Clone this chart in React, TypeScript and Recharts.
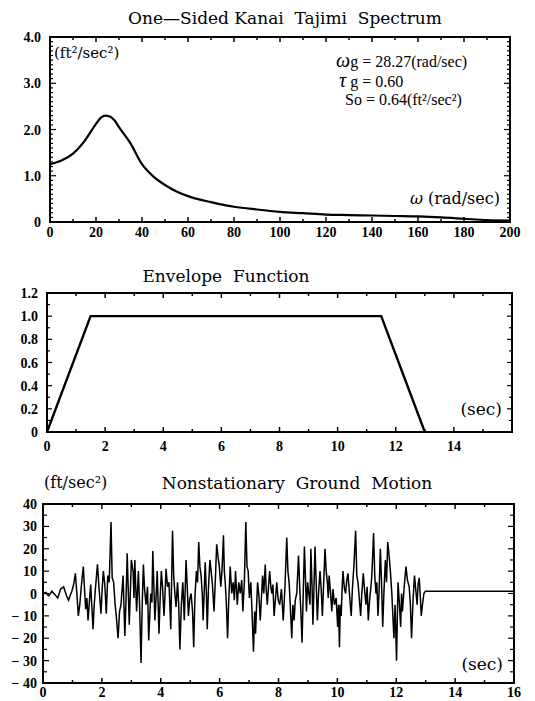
import { LineChart, Line, XAxis, YAxis, ReferenceArea } from "recharts";

const SERIF = "'Liberation Serif', 'Times New Roman', serif";
const WIDE = "'DejaVu Serif', 'Liberation Serif', serif";

// ---- One-sided Kanai-Tajimi spectrum
const omega = [0, 5, 10, 15, 20, 22, 24, 26, 28, 30, 35, 40, 45, 50, 55, 60, 70, 80, 90, 100, 110, 120, 130, 140, 150, 160, 170, 180, 190, 200];
const spectrum = [1.25, 1.33, 1.48, 1.75, 2.12, 2.25, 2.3, 2.28, 2.2, 2.05, 1.7, 1.25, 0.98, 0.8, 0.66, 0.56, 0.43, 0.33, 0.27, 0.22, 0.19, 0.16, 0.15, 0.14, 0.13, 0.12, 0.1, 0.07, 0.04, 0.03];

// ---- Envelope function
const envTime = [0, 1.5, 11.5, 13];
const envValue = [0, 1, 1, 0];

// ---- Nonstationary ground motion (ft/sec^2)
const gmTime = [
  0, 0.1, 0.15, 0.2, 0.3, 0.4, 0.5, 0.55, 0.6, 0.7,
  0.75, 0.8, 0.87, 0.92, 0.98, 1.04, 1.1, 1.15, 1.2, 1.25,
  1.3, 1.37, 1.41, 1.45, 1.49, 1.53, 1.58, 1.62, 1.66, 1.7,
  1.74, 1.78, 1.85, 1.9, 1.97, 2.01, 2.05, 2.1, 2.15, 2.2,
  2.25, 2.31, 2.35, 2.4, 2.45, 2.49, 2.55, 2.6, 2.65, 2.72,
  2.78, 2.82, 2.86, 2.9, 2.93, 2.97, 3.0, 3.06, 3.09, 3.12,
  3.15, 3.18, 3.24, 3.28, 3.33, 3.37, 3.41, 3.45, 3.5, 3.55,
  3.59, 3.66, 3.7, 3.73, 3.77, 3.8, 3.84, 3.88, 3.94, 3.98,
  4.02, 4.06, 4.11, 4.14, 4.18, 4.23, 4.28, 4.34, 4.4, 4.44,
  4.48, 4.52, 4.57, 4.61, 4.65, 4.7, 4.75, 4.8, 4.86, 4.9,
  4.94, 4.98, 5.03, 5.08, 5.12, 5.16, 5.21, 5.25, 5.29, 5.33,
  5.37, 5.41, 5.44, 5.48, 5.51, 5.55, 5.58, 5.62, 5.67, 5.71,
  5.75, 5.81, 5.86, 5.9, 5.95, 5.99, 6.04, 6.08, 6.13, 6.16,
  6.19, 6.23, 6.27, 6.31, 6.36, 6.41, 6.46, 6.5, 6.54, 6.6,
  6.65, 6.7, 6.75, 6.79, 6.84, 6.89, 6.93, 6.97, 7.01, 7.06,
  7.1, 7.15, 7.19, 7.22, 7.26, 7.29, 7.34, 7.38, 7.42, 7.46,
  7.5, 7.55, 7.58, 7.62, 7.66, 7.7, 7.74, 7.77, 7.81, 7.85,
  7.9, 7.94, 7.99, 8.04, 8.1, 8.16, 8.22, 8.28, 8.32, 8.36,
  8.4, 8.45, 8.49, 8.53, 8.57, 8.62, 8.68, 8.72, 8.76, 8.8,
  8.84, 8.88, 8.92, 8.95, 8.99, 9.03, 9.07, 9.1, 9.14, 9.17,
  9.2, 9.24, 9.28, 9.32, 9.36, 9.41, 9.45, 9.49, 9.53, 9.58,
  9.62, 9.66, 9.69, 9.72, 9.77, 9.81, 9.85, 9.9, 9.96, 10.01,
  10.04, 10.07, 10.1, 10.13, 10.16, 10.19, 10.24, 10.28, 10.32, 10.36,
  10.41, 10.47, 10.51, 10.56, 10.62, 10.66, 10.7, 10.75, 10.79, 10.83,
  10.88, 10.92, 10.97, 11.01, 11.05, 11.1, 11.14, 11.17, 11.23, 11.27,
  11.31, 11.34, 11.38, 11.42, 11.46, 11.5, 11.54, 11.58, 11.63, 11.67,
  11.71, 11.75, 11.8, 11.85, 11.92, 11.96, 12.01, 12.06, 12.1, 12.15,
  12.18, 12.21, 12.27, 12.33, 12.38, 12.44, 12.48, 12.52, 12.57, 12.62,
  12.66, 12.71, 12.74, 12.78, 12.82, 12.85, 12.9, 12.94, 12.99, 16,
];
const gmAccel = [
  0, 0.5, -0.5, -1, 1, -0.5, -2, 0, 2, 3,
  1, -1, -3, -1, 1, 4, 9, 0, -10, -5,
  3, 12, 2, -7, -2, -12, -3, 4, -6, -16,
  -5, 2, 13, 3, -9, 2, 10, 4, -9, 8,
  5, 32, 7, 5, -5, -10, -20, -8, -5, 8,
  -19, -3, 18, 0, -14, 2, 15, 10, -2, 15,
  3, -8, 10, -5, -31, -5, 13, 2, -5, 3,
  -21, 0, -4, 19, 2, -12, -2, 10, -18, -2,
  10, 3, -10, -2, 11, 3, 5, -16, 28, 8,
  0, -6, 5, -5, -25, -5, 5, -12, 15, 3,
  -10, -3, 0, -8, -24, -2, 10, 5, 23, 12,
  8, 0, -12, 2, 14, 0, -16, 2, 15, 10,
  5, -8, 8, 22, 16, 12, 3, 10, 26, 10,
  5, -5, -20, -3, 12, 0, 5, -3, 10, -5,
  5, 0, 6, -8, 5, 32, 12, 10, -2, 5,
  -8, -26, -8, -18, -4, 5, -2, -12, -2, 8,
  0, 13, 2, -5, 3, 10, 3, 0, 4, -10,
  -2, 5, -3, -5, 2, -12, 3, 25, 10, 5,
  -5, -20, -5, -12, -3, 0, 17, 3, -8, -22,
  0, 21, 5, -8, 5, 0, -5, 20, 3, -14,
  0, 21, 5, -12, 0, 10, 2, -10, 3, 20,
  10, 5, -2, 8, 0, -8, 2, -5, -2, -15,
  -5, -24, -5, -10, 2, 10, 2, 0, 6, 9,
  0, -10, 2, 12, 28, 8, 5, -3, -10, 0,
  9, 2, -5, 3, -12, -2, 3, 8, 27, 8,
  0, 5, -10, 2, 20, 5, -15, 0, 15, 5,
  23, 18, 10, 0, -20, -5, -30, 5, -3, -15,
  0, -8, 3, 12, 6, 3, -5, -20, -3, 8,
  2, -5, 4, 7, -2, -10, -4, 0, 1, 1,
];

const range = (from: number, to: number, step: number) =>
  Array.from({ length: Math.round((to - from) / step) + 1 }, (_, i) => Math.round((from + i * step) * 1000) / 1000);

const isStep = (step: number) => (v: number) => Math.abs(v / step - Math.round(v / step)) < 1e-6;

// inward tick marks on both opposite sides, labels only on bottom/left
function xTick(isMajor: (v: number) => boolean, label: (v: number) => string, len: number[], plotH: number, gap: number) {
  return (props: any) => {
    const { x, y, payload } = props;
    const major = isMajor(payload.value);
    const l = major ? len[0] : len[1];
    return (
      <g>
        <line x1={x} y1={y} x2={x} y2={y - l} stroke="#000" strokeWidth={1.5} />
        <line x1={x} y1={y - plotH} x2={x} y2={y - plotH + l} stroke="#000" strokeWidth={1.5} />
        {major && (
          <text x={x} y={y + gap} textAnchor="middle" fontFamily={SERIF} fontWeight="bold" fontSize={14} fill="#000">
            {label(payload.value)}
          </text>
        )}
      </g>
    );
  };
}

function yTick(isMajor: (v: number) => boolean, label: (v: number) => string, len: number[], plotW: number, gap: number) {
  return (props: any) => {
    const { x, y, payload } = props;
    const major = isMajor(payload.value);
    const l = major ? len[0] : len[1];
    return (
      <g>
        <line x1={x} y1={y} x2={x + l} y2={y} stroke="#000" strokeWidth={1.2} />
        <line x1={x + plotW} y1={y} x2={x + plotW - l} y2={y} stroke="#000" strokeWidth={1.2} />
        {major && (
          <text x={x - gap} y={y + 5} textAnchor="end" fontFamily={SERIF} fontWeight="bold" fontSize={14} fill="#000">
            {label(payload.value)}
          </text>
        )}
      </g>
    );
  };
}

function Txt({ left, top, size = 15, font = WIDE, children, style }: any) {
  return (
    <div style={{ position: "absolute", left, top, fontFamily: font, fontSize: size, lineHeight: 1, whiteSpace: "pre", color: "#000", ...style }}>
      {children}
    </div>
  );
}

const Y_AXIS_W = 40;
const X_AXIS_H = 16;

function Panel({ top, height, margin, data, xKey, yKey, xDomain, yDomain, xTicks, yTicks, xMajor, yMajor, xLabel, yLabel, xGap, yGap, strokeWidth, xLen, yLen, curve = "linear" }: any) {
  const plotH = height - margin.top - margin.bottom - X_AXIS_H;
  const plotW = 535 - margin.left - margin.right - Y_AXIS_W;
  return (
    <div style={{ position: "absolute", left: 0, top }}>
      <LineChart width={535} height={height} data={data} margin={margin}>
        <XAxis dataKey={xKey} type="number" domain={xDomain} ticks={xTicks} interval={0} allowDataOverflow
          tickSize={0} tickMargin={0} height={X_AXIS_H} axisLine={false} tickLine={false}
          tick={xTick(xMajor, xLabel, xLen, plotH, xGap)} />
        <YAxis type="number" domain={yDomain} ticks={yTicks} interval={0} allowDataOverflow
          tickSize={0} tickMargin={0} width={Y_AXIS_W} axisLine={false} tickLine={false}
          tick={yTick(yMajor, yLabel, yLen, plotW, yGap)} />
        <ReferenceArea x1={xDomain[0]} x2={xDomain[1]} y1={yDomain[0]} y2={yDomain[1]} fill="none" fillOpacity={0}
          stroke="#000" strokeWidth={2} ifOverflow="visible" />
        <Line dataKey={yKey} type={curve} stroke="#000" strokeWidth={strokeWidth} dot={false} isAnimationActive={false} />
      </LineChart>
    </div>
  );
}

export default function App() {
  const specData = omega.map((w, i) => ({ w, s: spectrum[i] }));
  const envData = envTime.map((t, i) => ({ t, e: envValue[i] }));
  const gmData = gmTime.map((t, i) => ({ t, a: gmAccel[i] }));

  return (
    <div style={{ position: "absolute", left: 0, top: 0, width: 535, height: 701, overflow: "hidden", background: "#fff" }}>
      {/* Spectrum */}
      <Txt left={285} top={18} size={17} style={{ transform: "translate(-50%, -50%)" }}>{"One—Sided Kanai  Tajimi  Spectrum"}</Txt>
      <Panel top={0} height={245} margin={{ top: 37, right: 25, bottom: 7, left: 10 }}
        data={specData} xKey="w" yKey="s" xDomain={[0, 200]} yDomain={[0, 4]}
        xTicks={range(0, 200, 10)} yTicks={range(0, 4, 0.1)}
        xMajor={isStep(20)} yMajor={isStep(1)}
        xLabel={(v: number) => String(v)} yLabel={(v: number) => (v === 0 ? "0" : v.toFixed(1))}
        xGap={15} yGap={9} strokeWidth={2.2} xLen={[5, 3]} yLen={[6, 3]} curve="monotone" />
      <Txt left={54} top={53} size={15} style={{ transform: "translateY(-50%)" }}>(ft²/sec²)</Txt>
      <Txt left={336} top={60} size={16} font={SERIF} style={{ transform: "translateY(-50%)" }}><i style={{ fontSize: 20 }}>ω</i>g = 28.27(rad/sec)</Txt>
      <Txt left={339} top={80} size={16} font={SERIF} style={{ transform: "translateY(-50%)" }}><i style={{ fontSize: 20 }}>τ</i> g = 0.60</Txt>
      <Txt left={345} top={100} size={16} font={SERIF} style={{ transform: "translateY(-50%)" }}>So = 0.64(ft²/sec²)</Txt>
      <Txt left={500} top={199} size={16} style={{ transform: "translate(-100%, -50%)" }}><i>ω</i>{" (rad/sec)"}</Txt>

      {/* Envelope */}
      <Txt left={226} top={276} size={17} style={{ transform: "translate(-50%, -50%)" }}>{"Envelope  Function"}</Txt>
      <Panel top={255} height={200} margin={{ top: 38, right: 23, bottom: 7, left: 7 }}
        data={envData} xKey="t" yKey="e" xDomain={[0, 16]} yDomain={[0, 1.2]}
        xTicks={range(0, 16, 1)} yTicks={range(0, 1.2, 0.1)}
        xMajor={isStep(2)} yMajor={isStep(0.2)}
        xLabel={(v: number) => (v === 16 ? "" : String(v))} yLabel={(v: number) => (v === 0 ? "0" : v.toFixed(1))}
        xGap={19} yGap={9} strokeWidth={2.4} xLen={[5, 3]} yLen={[5, 3]} />
      <Txt left={502} top={409} size={17} style={{ transform: "translate(-100%, -50%)" }}>(sec)</Txt>

      {/* Ground motion */}
      <Txt left={44} top={483} size={16} style={{ transform: "translateY(-50%)" }}>(ft/sec²)</Txt>
      <Txt left={297} top={483} size={17} style={{ transform: "translate(-50%, -50%)" }}>{"Nonstationary  Ground  Motion"}</Txt>
      <Panel top={465} height={236} margin={{ top: 39, right: 21, bottom: 2, left: 3 }}
        data={gmData} xKey="t" yKey="a" xDomain={[0, 16]} yDomain={[-40, 40]}
        xTicks={range(0, 16, 1)} yTicks={range(-40, 40, 5)}
        xMajor={isStep(2)} yMajor={isStep(10)}
        xLabel={(v: number) => String(v)} yLabel={(v: number) => (v < 0 ? "− " + Math.abs(v) : String(v))}
        xGap={14} yGap={6} strokeWidth={1.5} xLen={[5, 3]} yLen={[6, 4]} />
      <Txt left={503} top={664} size={17} style={{ transform: "translate(-100%, -50%)" }}>(sec)</Txt>
    </div>
  );
}
